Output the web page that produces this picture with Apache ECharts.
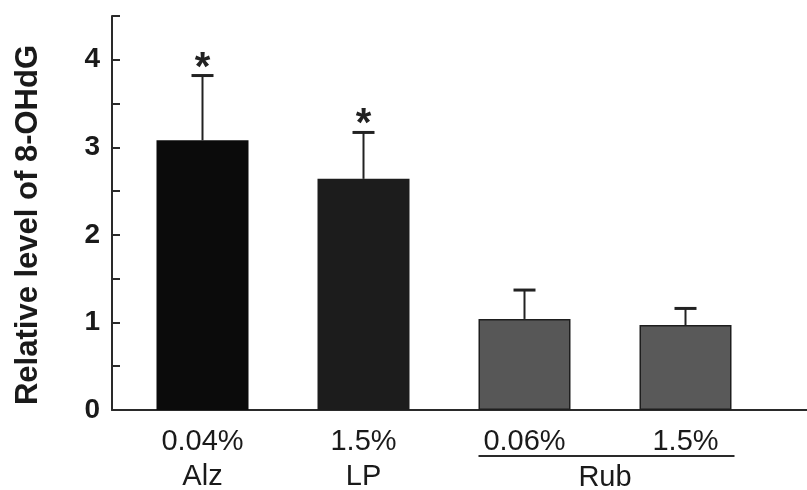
<!DOCTYPE html>
<html>
<head>
<meta charset="utf-8">
<script src="https://cdn.jsdelivr.net/npm/echarts@6/dist/echarts.min.js"></script>
<style>
html,body{margin:0;padding:0;background:#fff;}
#chart{width:807px;height:490px;}
</style>
</head>
<body>
<div id="chart"></div>
<script>
// ---- data ----
const categories = ['0.04%', '1.5%', '0.06%', '1.5%'];
const groups = ['Alz', 'LP', 'Rub', 'Rub'];
const means = [3.08, 2.64, 1.04, 0.97];
const upperErr = [3.82, 3.17, 1.37, 1.16];
const sigMarks = ['*', '*', '', ''];
const barColors = ['#0b0b0b', '#1c1c1c', '#575757', '#595959'];
const yTickLabels = [0, 1, 2, 3, 4];
const yTitle = 'Relative level of 8-OHdG';

const FONT = "'Liberation Sans', Arial, sans-serif";
const chart = echarts.init(document.getElementById('chart'), null, {renderer: 'canvas'});

const option = {
  animation: false,
  backgroundColor: '#ffffff',
  grid: [
    {left: 122, right: 41, top: 16, bottom: 80, outerBoundsMode: 'none', containLabel: false},
    {left: 112, right: 0, top: 16, bottom: 80, outerBoundsMode: 'none', containLabel: false}
  ],
  xAxis: [
    {
      type: 'category', gridIndex: 0, data: categories,
      axisLine: {show: false}, axisTick: {show: false},
      axisLabel: {
        margin: 14, fontFamily: FONT, fontSize: 29, color: '#1a1a1a', lineHeight: 35,
        formatter: (v, i) => groups[i] === 'Rub' ? v : v + '\n' + groups[i]
      }
    },
    {
      type: 'value', gridIndex: 1, min: 0, max: 1,
      axisLine: {show: true, lineStyle: {color: '#2a2a2a', width: 2}},
      axisTick: {show: false}, axisLabel: {show: false}, splitLine: {show: false}
    }
  ],
  yAxis: [
    {type: 'value', gridIndex: 0, min: 0, max: 4.5, interval: 0.5, show: false, splitLine: {show: false}},
    {
      type: 'value', gridIndex: 1, min: 0, max: 4.5, interval: 0.5,
      axisLine: {show: true, lineStyle: {color: '#2a2a2a', width: 2}},
      axisTick: {show: true, inside: true, length: 8, lineStyle: {color: '#2a2a2a', width: 2}},
      splitLine: {show: false},
      axisLabel: {
        margin: 12, fontFamily: FONT, fontSize: 28, fontWeight: 'bold', color: '#1a1a1a',
        formatter: v => yTickLabels.indexOf(v) >= 0 ? String(v) : ''
      },
      name: yTitle, nameLocation: 'middle', nameGap: 68,
      nameTextStyle: {fontFamily: FONT, fontSize: 31, fontWeight: 'bold', color: '#1a1a1a', padding: [0, 24, 0, 0]}
    }
  ],
  series: [
    {
      type: 'bar', xAxisIndex: 0, yAxisIndex: 0, barWidth: 92,
      data: means.map((v, i) => ({
        value: v,
        itemStyle: {color: barColors[i], borderColor: '#1e1e1e', borderWidth: i >= 2 ? 1.5 : 0}
      }))
    },
    {
      type: 'custom', xAxisIndex: 0, yAxisIndex: 0, z: 5,
      data: means.map((v, i) => [i, v, upperErr[i]]),
      renderItem: (params, api) => {
        const base = api.coord([api.value(0), api.value(1)]);
        const top = api.coord([api.value(0), api.value(2)]);
        const children = [
          {type: 'line', shape: {x1: base[0], y1: base[1], x2: top[0], y2: top[1]}, style: {stroke: '#222', lineWidth: 2}},
          {type: 'line', shape: {x1: top[0] - 11, y1: top[1], x2: top[0] + 11, y2: top[1]}, style: {stroke: '#222', lineWidth: 3}}
        ];
        const m = sigMarks[params.dataIndex];
        if (m) {
          children.push({
            type: 'text',
            style: {text: m, x: top[0], y: top[1] - 7, align: 'center', verticalAlign: 'middle',
              font: "bold 40px " + FONT, fill: '#222'}
          });
        }
        return {type: 'group', children};
      }
    }
  ]
};
chart.setOption(option);

// Rub group label with underline, placed from the category axis scale
const x2p = chart.convertToPixel({xAxisIndex: 0}, 2);
const x3 = chart.convertToPixel({xAxisIndex: 0}, 3);
chart.setOption({
  graphic: [
    {type: 'line', shape: {x1: x2p - 46, y1: 456, x2: x3 + 49, y2: 456}, style: {stroke: '#2a2a2a', lineWidth: 2}},
    {type: 'text', style: {text: groups[2], x: (x2p + x3) / 2, y: 478, align: 'center', verticalAlign: 'middle',
      font: "29px " + FONT, fill: '#1a1a1a'}}
  ]
});
</script>
</body>
</html>
